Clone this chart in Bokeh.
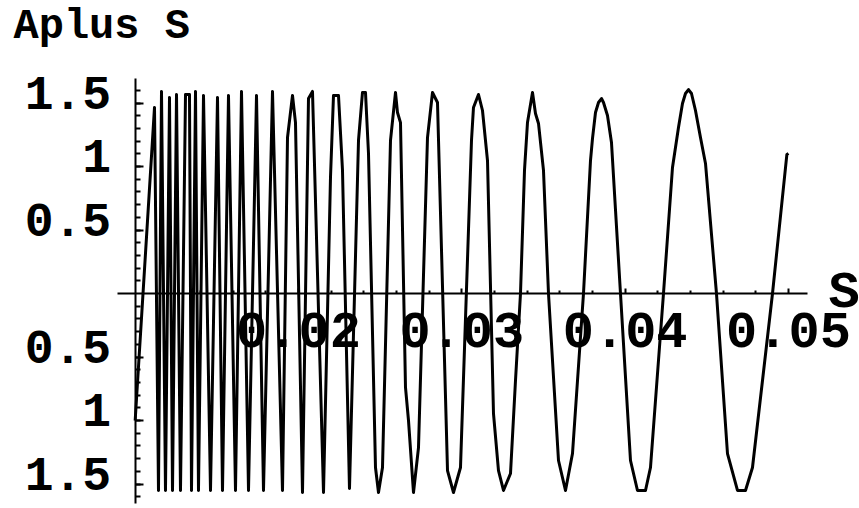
from bokeh.plotting import figure
from bokeh.models import LinearAxis, FixedTicker, Label, Range1d
from bokeh.embed import file_html
from bokeh.resources import INLINE

# Sampled curve vertices: S (abscissa) and Aplus S (ordinate)
s_values = [
    0.01000, 0.011184, 0.011428, 0.011612, 0.011857, 0.012102, 0.012286, 0.012531,
    0.012775, 0.013082, 0.013326, 0.013449, 0.013694, 0.013877, 0.014184, 0.014612,
    0.015041, 0.015347, 0.015714, 0.016143, 0.016510, 0.016939, 0.017429, 0.017857,
    0.018408, 0.019020, 0.019327, 0.019633, 0.019816, 0.020245, 0.020612, 0.020857,
    0.021531, 0.021959, 0.022143, 0.022449, 0.022694, 0.023122, 0.023674, 0.023918,
    0.024102, 0.024286, 0.024714, 0.024898, 0.025143, 0.025633, 0.025939, 0.026061,
    0.026245, 0.026551, 0.026735, 0.027041, 0.027347, 0.027898, 0.028204, 0.028510,
    0.029123, 0.029490, 0.029918, 0.030592, 0.030714, 0.031020, 0.031265, 0.031572,
    0.031939, 0.032245, 0.032551, 0.032980, 0.033286, 0.033592, 0.033837, 0.034020,
    0.034327, 0.034510, 0.034694, 0.035000, 0.035306, 0.035919, 0.036347, 0.036776,
    0.037449, 0.037878, 0.038000, 0.038184, 0.038368, 0.038551, 0.038674, 0.038918,
    0.039163, 0.039714, 0.040327, 0.040755, 0.041245, 0.041551, 0.042347, 0.042898,
    0.043265, 0.043510, 0.043694, 0.043878, 0.044061, 0.044306, 0.044612, 0.044919,
    0.045592, 0.046265, 0.046878, 0.047368, 0.047796, 0.049021, 0.049900, 0.050000,
]
aplus_values = [
    -1.000, 1.465, -1.551, 1.591, -1.551, 1.543, -1.551, 1.567,
    -1.551, 1.567, 1.567, -1.551, 1.591, -1.551, 1.559, -1.551,
    1.543, -1.551, 1.559, -1.551, 1.591, -1.551, 1.559, -1.551,
    1.591, -1.551, 1.228, 1.559, 1.346, -1.567, 1.535, 1.591,
    -1.567, 0.913, 1.559, 1.559, 0.969, -1.535, 1.205, 1.583,
    1.583, 1.102, -1.370, -1.567, -1.370, 1.205, 1.583, 1.425,
    1.346, -0.740, -1.000, -1.567, -1.213, 1.228, 1.583, 1.504,
    -1.394, -1.567, -1.370, 1.205, 1.465, 1.567, 1.441, 1.047,
    -0.945, -1.394, -1.551, -1.417, -0.685, 0.000, 0.969, 1.346,
    1.583, 1.417, 1.339, 0.969, 0.000, -1.315, -1.551, -1.260,
    0.000, 1.047, 1.220, 1.425, 1.504, 1.535, 1.504, 1.402,
    1.189, 0.000, -1.315, -1.551, -1.551, -1.370, 0.000, 0.992,
    1.307, 1.496, 1.575, 1.606, 1.575, 1.441, 1.228, 1.024,
    0.000, -1.260, -1.551, -1.551, -1.370, 0.000, 1.094, 1.102,
]

# Axis ticks and their labels
x_major = [0.02, 0.03, 0.04, 0.05]
x_minor = [0.012, 0.014, 0.016, 0.018, 0.022, 0.024, 0.026, 0.028,
           0.032, 0.034, 0.036, 0.038, 0.042, 0.044, 0.046, 0.048]
x_labels = {0.02: "0.02", 0.03: "0.03", 0.04: "0.04", 0.05: "0.05"}
y_major = [-1.5, -1.0, -0.5, 0.5, 1.0, 1.5]
y_minor = [round(0.1 * k, 1) for k in range(-16, 17) if k != 0]
# y tick labels sit a little above their tick marks
y_label_pos = [-1.42, -0.92, -0.42, 0.58, 1.08, 1.58]
y_label_text = ["1.5", "1", "0.5", "0.5", "1", "1.5"]

FONT = "Liberation Mono"

p = figure(
    width=859, height=508,
    x_range=Range1d(0.001755, 0.054348),
    y_range=Range1d(-1.6929, 2.3071),
    output_backend="svg", toolbar_location=None,
    x_axis_location=None, y_axis_location=None,
    min_border=0, outline_line_color=None,
    background_fill_color="white", border_fill_color="white",
)
p.xgrid.visible = False
p.ygrid.visible = False

label_style = dict(
    major_label_text_font=FONT, major_label_text_font_style="bold",
    major_label_text_color="black",
)

xaxis = LinearAxis(
    fixed_location=0, bounds=(0.008918, 0.051164),
    ticker=FixedTicker(ticks=x_major, minor_ticks=x_minor),
    major_label_overrides=x_labels,
    axis_line_color="black", axis_line_width=2,
    major_tick_line_color="black", minor_tick_line_color="black",
    major_tick_in=5, minor_tick_in=3, major_tick_out=0, minor_tick_out=0,
    major_tick_line_width=2, minor_tick_line_width=2,
    major_label_standoff=19, major_label_text_font_size="52px",
    **label_style,
)
p.add_layout(xaxis, "below")

# vertical axis line with its tick marks
ytick_axis = LinearAxis(
    fixed_location=0.01, bounds=(-1.654, 1.693),
    ticker=FixedTicker(ticks=y_major, minor_ticks=y_minor),
    major_label_overrides={v: "" for v in y_major},
    axis_line_color="black", axis_line_width=2,
    major_tick_line_color="black", minor_tick_line_color="black",
    major_tick_in=8, minor_tick_in=5, major_tick_out=0, minor_tick_out=0,
    major_tick_line_width=2, minor_tick_line_width=2,
    major_label_text_font_size="1px",
)
p.add_layout(ytick_axis, "left")

# vertical axis tick labels
ylabel_axis = LinearAxis(
    fixed_location=0.01,
    ticker=FixedTicker(ticks=y_label_pos, minor_ticks=[]),
    major_label_overrides=dict(zip(y_label_pos, y_label_text)),
    axis_line_color=None, major_tick_line_color=None, minor_tick_line_color=None,
    major_tick_in=0, major_tick_out=0, minor_tick_in=0, minor_tick_out=0,
    major_label_standoff=24, major_label_text_font_size="48px",
    **label_style,
)
p.add_layout(ylabel_axis, "left")

p.line(s_values, aplus_values, line_color="black", line_width=3, line_join="round")

p.add_layout(Label(x=0.002551, y=2.10, text="Aplus S", text_font=FONT,
                   text_font_style="bold", text_font_size="42px",
                   text_color="black", text_baseline="alphabetic"))
p.add_layout(Label(x=0.05245, y=0.0, text="S", text_font=FONT,
                   text_font_style="bold", text_font_size="52px",
                   text_color="black", text_baseline="alphabetic"))

open("out.html", "w").write(file_html(p, INLINE))
